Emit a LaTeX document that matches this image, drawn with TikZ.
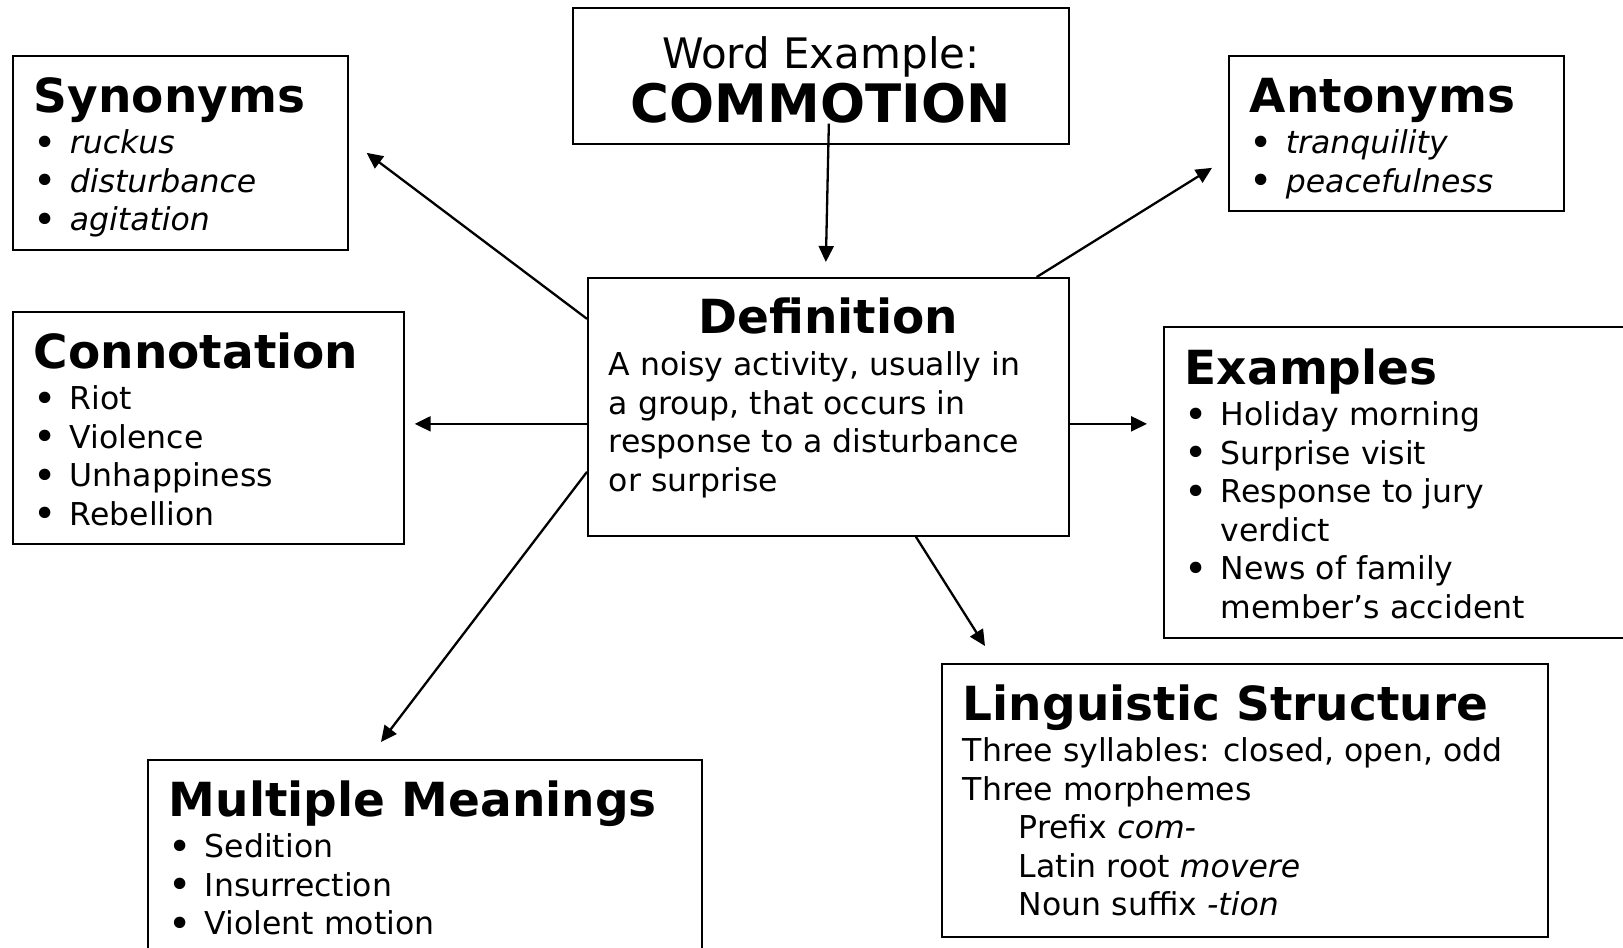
\documentclass[tikz,border=0pt]{standalone}
\usepackage{fontspec}
\setmainfont{DejaVu Sans}
\usetikzlibrary{arrows.meta}
\tikzset{box/.style = {draw, line width=1.7pt, anchor=north west, inner xsep=21pt, inner ysep=0pt}}
\tikzset{link/.style = {-{Triangle[length=16pt, width=15pt]}, line width=2.3pt}}
\newcommand{\bodysize}{\fontsize{31.5}{38.5}\selectfont}
\newcommand{\headsize}{\fontsize{47}{38.5}\selectfont\bfseries}
\newcommand{\boxtext}[3]{\begin{minipage}[t][#2][t]{#1}\bodysize\raggedright #3\end{minipage}}
\newcommand{\heading}[2][57pt]{{\headsize\rule{0pt}{#1}#2\par}\vspace{2.5pt}}
\newcommand{\bul}[1]{\makebox[36pt][l]{\raisebox{-2.6pt}{\scalebox{1.25}{\textbullet}}}#1\par}

\begin{document}
\begin{tikzpicture}[x=1pt, y=-1pt]
  \useasboundingbox (0,0) rectangle (1623,948);
  \clip (0,0) rectangle (1623,948);

  \node [box] (word) at (572,7) {\boxtext{454pt}{136pt}{\centering
    {\fontsize{42}{54}\selectfont\rule{0pt}{61pt}Word Example:\par}
    {\fontsize{53}{54}\selectfont\bfseries COMMOTION\par}}};
  \node [box] (def) at (587,277) {\boxtext{439pt}{258pt}{%
    {\centering\headsize\rule{0pt}{56pt}Definition\par}\vspace{3.5pt}
    A noisy activity, usually in\\ a group, that occurs in\\
    response to a disturbance\\ or surprise}};

  \node [box] (syn) at (12,55) {\boxtext{293pt}{194pt}{\heading{Synonyms}
    \bul{\textit{ruckus}}\bul{\textit{disturbance}}\bul{\textit{agitation}}}};
  \node [box] (ant) at (1228,55) {\boxtext{293pt}{155pt}{\heading{Antonyms}
    \bul{\textit{tranquility}}\bul{\textit{peacefulness}}}};
  \node [box] (con) at (12,311) {\boxtext{349pt}{232pt}{\heading{Connotation}
    \bul{Riot}\bul{Violence}\bul{Unhappiness}\bul{Rebellion}}};
  \node [box] (exa) at (1163,326) {\boxtext{438pt}{311pt}{\heading[58pt]{Examples}
    \bul{Holiday morning}\bul{Surprise visit}\bul{Response to jury}
    \hspace*{36pt}verdict\par
    \bul{News of family}
    \hspace*{36pt}member’s accident\par}};
  \node [box] (lin) at (941,663) {\boxtext{564pt}{273pt}{\heading{Linguistic Structure}
    Three syllables: closed, open, odd\par
    Three morphemes\par
    \hspace*{56pt}Prefix \textit{com-}\par
    \hspace*{56pt}Latin root \textit{movere}\par
    \hspace*{56pt}Noun suffix \textit{-tion}\par}};
  \node [box] (mul) at (147,759) {\boxtext{512pt}{230pt}{\heading{Multiple Meanings}
    \bul{Sedition}\bul{Insurrection}\bul{Violent motion}}};

  \draw [link] ([xshift=8pt, yshift=21pt]word.south) -- ([xshift=-2.5pt, yshift=15pt]def.north);
  \draw [link] ([yshift=88pt]def.west) -- ([xshift=18pt]syn.east);
  \draw [link] ([xshift=-33pt]def.north east) -- ([xshift=-16pt, yshift=-34.5pt]ant.west);
  \draw [link] ([yshift=-17pt]def.west) -- ([xshift=10pt, yshift=4pt]con.east);
  \draw [link] ([yshift=-17pt]def.east) -- ([xshift=-16pt, yshift=58.5pt]exa.west);
  \draw [link] ([yshift=-65pt]def.west) -- ([xshift=234pt, yshift=17pt]mul.north west);
  \draw [link] ([xshift=87.5pt]def.south) -- ([xshift=44pt, yshift=17pt]lin.north west);
\end{tikzpicture}
\end{document}
